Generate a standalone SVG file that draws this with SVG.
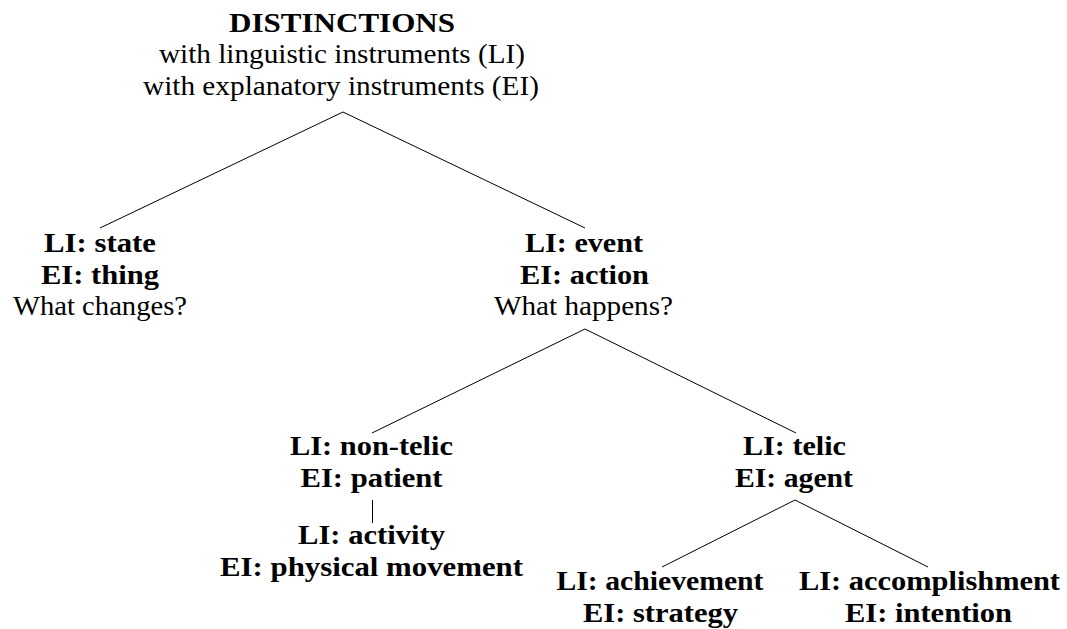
<svg xmlns="http://www.w3.org/2000/svg" width="1067" height="629" viewBox="0 0 1067 629">
<style>
text{font-family:"Liberation Serif","Times New Roman",serif;font-size:27px;fill:#000;text-anchor:middle}
.b{font-weight:bold}
.edge{stroke:#000;stroke-width:1;fill:none}
</style>
<rect width="1067" height="629" fill="#fff"/>
<g id="connectors">
<line class="edge" x1="343" y1="112" x2="100" y2="228"/>
<line class="edge" x1="343" y1="112" x2="585" y2="228"/>
<line class="edge" x1="585" y1="329" x2="372" y2="433"/>
<line class="edge" x1="585" y1="329" x2="796" y2="433"/>
<line class="edge" x1="372.5" y1="500" x2="372.5" y2="523"/>
<line class="edge" x1="795" y1="500" x2="662" y2="567"/>
<line class="edge" x1="795" y1="500" x2="928" y2="567"/>
</g>
<g id="root">
<text class="b" x="342" y="31.5" textLength="226" lengthAdjust="spacingAndGlyphs">DISTINCTIONS</text>
<text x="342" y="63" textLength="366" lengthAdjust="spacingAndGlyphs">with linguistic instruments (LI)</text>
<text x="341" y="94.5" textLength="396" lengthAdjust="spacingAndGlyphs">with explanatory instruments (EI)</text>
</g>
<g id="state">
<text class="b" x="100" y="252" textLength="112" lengthAdjust="spacingAndGlyphs">LI: state</text>
<text class="b" x="100" y="283.5" textLength="118" lengthAdjust="spacingAndGlyphs">EI: thing</text>
<text x="100" y="315" textLength="174" lengthAdjust="spacingAndGlyphs">What changes?</text>
</g>
<g id="event">
<text class="b" x="584" y="252" textLength="118" lengthAdjust="spacingAndGlyphs">LI: event</text>
<text class="b" x="584.5" y="283.5" textLength="129" lengthAdjust="spacingAndGlyphs">EI: action</text>
<text x="583.5" y="315" textLength="179" lengthAdjust="spacingAndGlyphs">What happens?</text>
</g>
<g id="nontelic">
<text class="b" x="371.5" y="455" textLength="163" lengthAdjust="spacingAndGlyphs">LI: non-telic</text>
<text class="b" x="371.5" y="486.5" textLength="142" lengthAdjust="spacingAndGlyphs">EI: patient</text>
</g>
<g id="activity">
<text class="b" x="371.5" y="544" textLength="147" lengthAdjust="spacingAndGlyphs">LI: activity</text>
<text class="b" x="371.5" y="575.5" textLength="303" lengthAdjust="spacingAndGlyphs">EI: physical movement</text>
</g>
<g id="telic">
<text class="b" x="794.5" y="455" textLength="103" lengthAdjust="spacingAndGlyphs">LI: telic</text>
<text class="b" x="794" y="486.5" textLength="118" lengthAdjust="spacingAndGlyphs">EI: agent</text>
</g>
<g id="achievement">
<text class="b" x="660" y="590" textLength="207" lengthAdjust="spacingAndGlyphs">LI: achievement</text>
<text class="b" x="660.5" y="621.5" textLength="155" lengthAdjust="spacingAndGlyphs">EI: strategy</text>
</g>
<g id="accomplishment">
<text class="b" x="929.5" y="590" textLength="261" lengthAdjust="spacingAndGlyphs">LI: accomplishment</text>
<text class="b" x="928.5" y="621.5" textLength="167" lengthAdjust="spacingAndGlyphs">EI: intention</text>
</g>
</svg>
